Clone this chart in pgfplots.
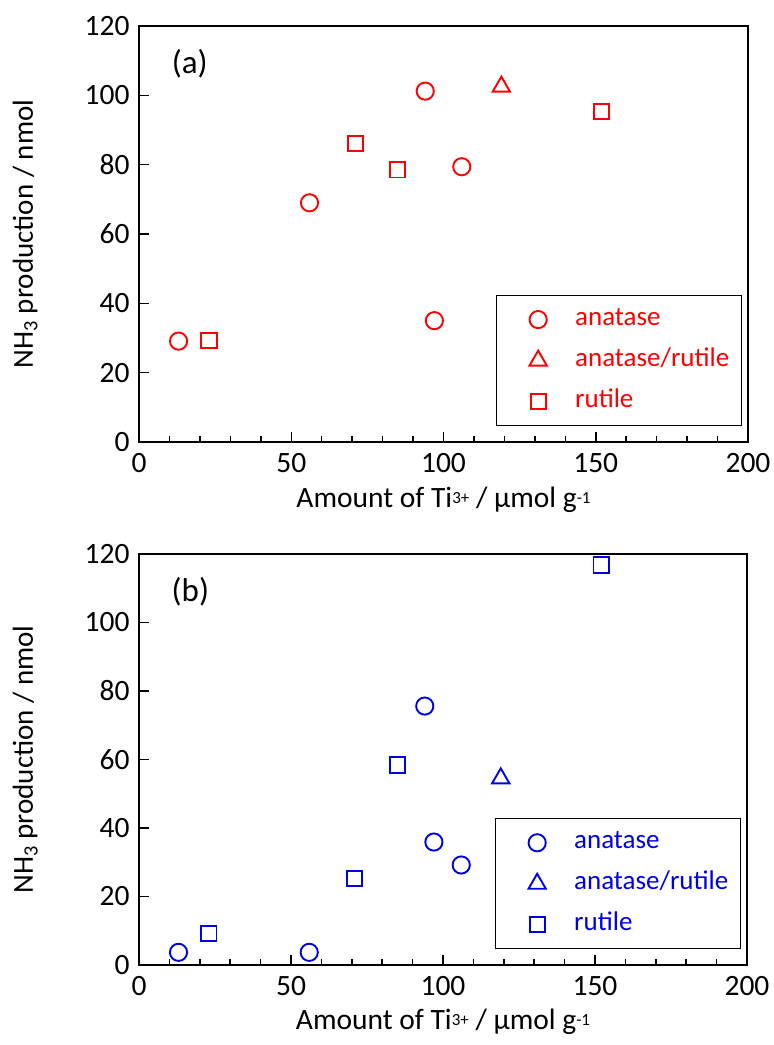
\documentclass[border=0pt]{standalone}
\usepackage{fontspec}
\setmainfont{Carlito}
\usepackage{pgfplots}
\pgfplotsset{compat=1.18}
\definecolor{myred}{RGB}{255,0,0}
\definecolor{myblue}{RGB}{0,0,230}
\newcommand{\sml}[1]{\raisebox{4bp}{\fontsize{17bp}{20bp}\selectfont #1}}
\pgfplotsset{
 panel/.style={
  scale only axis, width=609bp, height=414bp,
  xmin=0,xmax=200,ymin=0,ymax=120,
  xtick={0,50,...,200}, ytick={0,20,...,120},
  minor x tick num=4,
  tick align=inside,
  xtick pos=bottom, ytick pos=left,
  major tick length=10bp, minor tick length=6bp,
  axis line style={line width=1.8bp},
  every tick/.style={black,line width=1.5bp},
  tick label style={font=\fontsize{29.5bp}{34bp}\selectfont},
  /pgf/number format/assume math mode=true,
  xticklabel style={yshift=-8bp},
  yticklabel style={xshift=-6bp},
  xlabel={Amount of Ti\sml{3+} / μmol g\sml{-1}},
  ylabel={NH\textsubscript{3} production / nmol},
  every axis x label/.style={at={(axis description cs:0.5,-0.139)},anchor=center,font=\fontsize{29.5bp}{34bp}\selectfont},
  every axis y label/.style={at={(axis description cs:-0.187,0.5)},rotate=90,anchor=center,font=\fontsize{29bp}{34bp}\selectfont},
  legend cell align=left,
  legend image code/.code={\path[draw=none,fill=none] (-30bp,-10bp) rectangle (37bp,10bp); \draw[##1] plot coordinates {(0bp,0bp)};},
  legend style={at={(rel axis cs:0.99,0.038)}, anchor=south east, draw=black, line width=1.2bp,
    font=\fontsize{27bp}{32bp}\selectfont, inner xsep=12bp, inner ysep=12bp,
    nodes={inner sep=0pt, text height=18bp, text depth=6bp}, row sep=17bp},
 },
 circ/.style={only marks, mark=o, mark size=8.6bp, line width=1.9bp},
 tri/.style={only marks, mark=triangle, mark size=10bp, line width=1.9bp},
 squ/.style={only marks, mark=square, mark size=7.6bp, line width=1.9bp},
}
\begin{document}
\begin{tikzpicture}[x=1bp,y=1bp]
\useasboundingbox (-139,-80) rectangle (635,965);
% top panel (a)
\begin{axis}[panel, at={(0bp,523bp)}, anchor=south west, height=416bp, legend style={text=myred}]
\addplot[myred, circ] coordinates {(13,29.1) (56,69) (94,101.2) (106,79.4) (97,35)};
\addlegendentry{anatase}
\addplot[myred, tri] coordinates {(119,102.5)};
\addlegendentry{anatase/rutile}
\addplot[myred, squ] coordinates {(23,29.2) (71,86) (85,78.5) (152,95.4)};
\addlegendentry{rutile}
\node[anchor=west, font=\fontsize{33bp}{38bp}\selectfont] at (rel axis cs:0.048,0.91) {(a)};
\end{axis}
% bottom panel (b)
\begin{axis}[panel, at={(0bp,0bp)}, anchor=south west, width=608bp, height=411bp, legend style={text=myblue}]
\addplot[myblue, circ] coordinates {(13,3.7) (56,3.7) (94,75.6) (97,35.9) (106,29.2)};
\addlegendentry{anatase}
\addplot[myblue, tri] coordinates {(119,54.5)};
\addlegendentry{anatase/rutile}
\addplot[myblue, squ] coordinates {(23,9.2) (71,25.3) (85,58.4) (152,116.8)};
\addlegendentry{rutile}
\node[anchor=west, font=\fontsize{33bp}{38bp}\selectfont] at (rel axis cs:0.048,0.908) {(b)};
\end{axis}
\end{tikzpicture}
\end{document}
